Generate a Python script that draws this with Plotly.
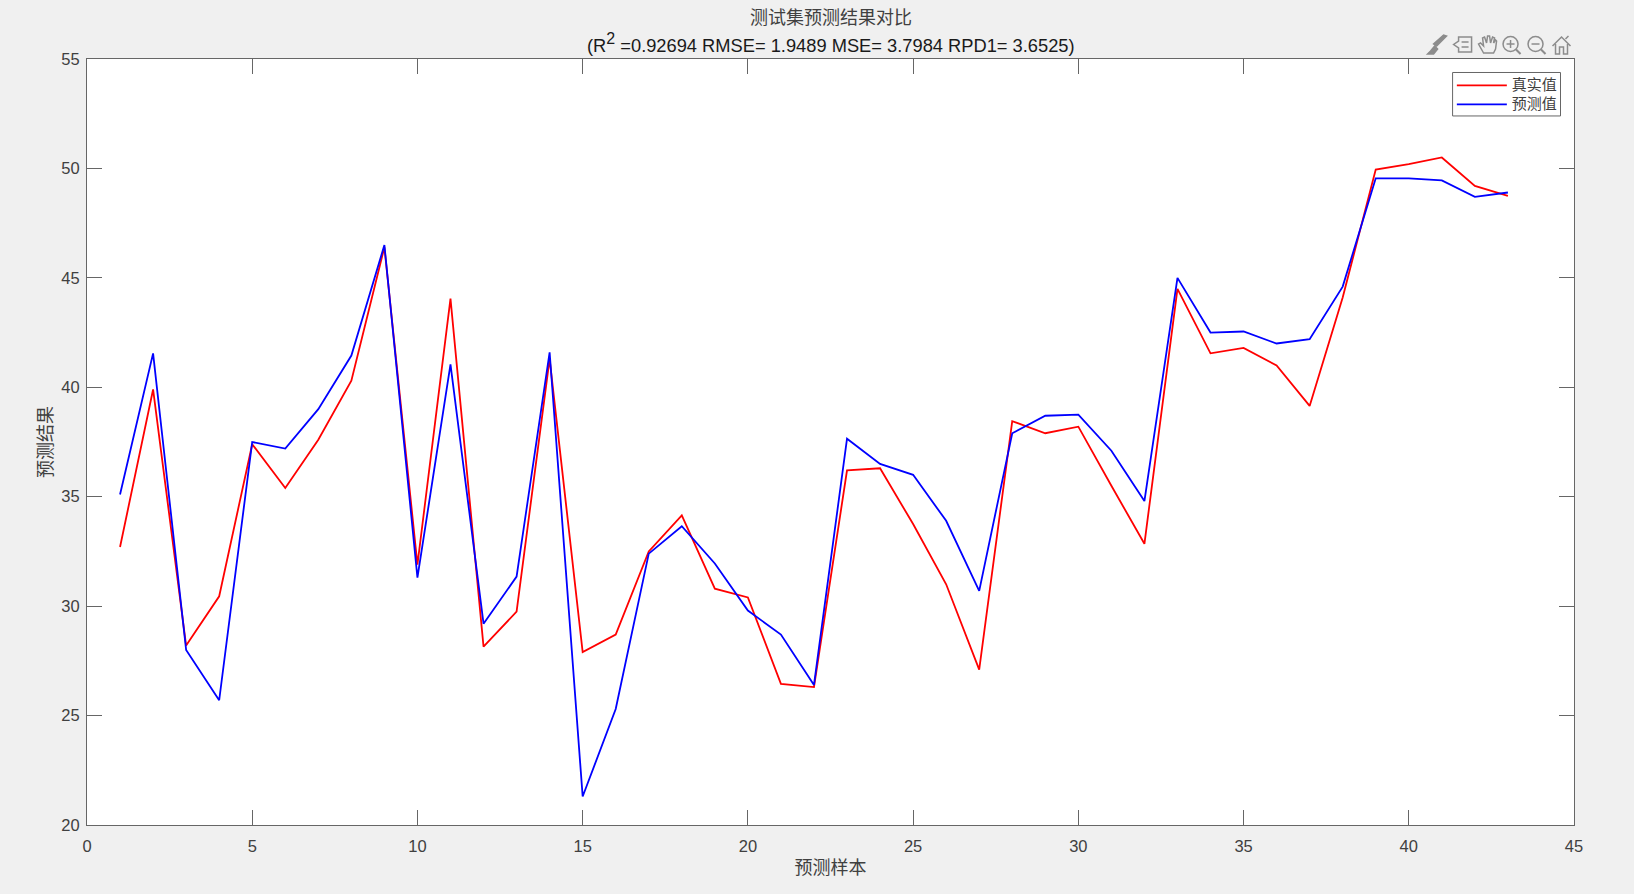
"""
测试集预测结果对比 - true vs. predicted values on the test set (MATLAB figure look).
"""

import plotly.graph_objects as go

FIG_W, FIG_H = 1634, 894
LEFT, RIGHT, TOP, BOTTOM = 86.5, 1574.5, 59, 825.5

samples = list(range(1, 44))
true_values = [
    32.7, 39.9, 28.2, 30.45, 37.4, 35.4, 37.6, 40.3, 46.4, 31.9, 44.05,
    28.15, 29.75, 41.3, 27.9, 28.7, 32.5, 34.15, 30.8, 30.4, 26.45, 26.3,
    36.2, 36.3, 33.75, 31.0, 27.1, 38.45, 37.9, 38.2, 35.5, 32.85, 44.5,
    41.55, 41.8, 41.0, 39.15, 44.1, 49.95, 50.2, 50.5, 49.2, 48.75,
]
pred_values = [
    35.1, 41.55, 28.0, 25.7, 37.5, 37.2, 39.0, 41.45, 46.5, 31.3, 41.05,
    29.2, 31.35, 41.6, 21.3, 25.3, 32.4, 33.65, 31.95, 29.8, 28.7, 26.4,
    37.65, 36.5, 36.0, 33.9, 30.7, 37.9, 38.7, 38.75, 37.1, 34.8, 45.0,
    42.5, 42.55, 42.0, 42.2, 44.6, 49.55, 49.55, 49.45, 48.7, 48.9,
]

title_cn = "测试集预测结果对比"
title_stats = (
    '(R<sup><span style="font-size:16px">2</span></sup> =0.92694 RMSE= 1.9489 '
    "MSE= 3.7984 RPD1= 3.6525)"
)
# legend font stays small so the rows sit as tight as the original, the text is sized inline
legend_true = '<span style="font-size:15px">真实值</span>'
legend_pred = '<span style="font-size:15px">预测值</span>'

LATIN = "Liberation Sans, Arial, sans-serif"
CJK = "Noto Sans CJK SC, sans-serif"
AXIS_COLOR = "#666666"
TEXT_COLOR = "#404040"
ICON_COLOR = "#8c8c8c"


def _px(x, y):
    return (x - LEFT) / (RIGHT - LEFT), (BOTTOM - y) / (BOTTOM - TOP)


def _path(points, close=False, fill=None, width=1.5):
    parts = []
    for i, (x, y) in enumerate(points):
        px, py = _px(x, y)
        parts.append(f"{'M' if i == 0 else 'L'}{px:.5f},{py:.5f}")
    return dict(
        type="path", xref="paper", yref="paper",
        path=" ".join(parts) + (" Z" if close else ""),
        line=dict(color=ICON_COLOR, width=width),
        fillcolor=fill or "rgba(0,0,0,0)",
    )


def _circle(cx, cy, r):
    x0, y0 = _px(cx - r, cy + r)
    x1, y1 = _px(cx + r, cy - r)
    return dict(
        type="circle", xref="paper", yref="paper", x0=x0, y0=y0, x1=x1, y1=y1,
        line=dict(color=ICON_COLOR, width=1.5),
    )


def legend_box():
    # plotly pads its own legend border too much, so the frame is a shape behind it
    x0, y0 = _px(1453, 116)
    x1, y1 = _px(1561, 72.5)
    return dict(
        type="rect", xref="paper", yref="paper", x0=x0, y0=y0, x1=x1, y1=y1,
        line=dict(color=AXIS_COLOR, width=1), fillcolor="white",
    )


def toolbar_shapes():
    shapes = [
        # brush
        _path([(1447, 36), (1437, 46), (1434, 44), (1444, 35)], close=True, fill=ICON_COLOR),
        _path([(1435, 46), (1438, 49), (1434, 54), (1428, 54), (1431, 51)], close=True, fill=ICON_COLOR),
        # data tip
        _path([(1459, 37), (1472, 37), (1472, 52), (1459, 52), (1459, 48), (1454, 44.5), (1459, 41)], close=True),
        _path([(1462, 42), (1469, 42)]),
        _path([(1462, 47), (1469, 47)]),
        # hand
        _path([(1484, 53), (1479, 44), (1481, 43), (1484, 46), (1483, 38), (1485, 37),
               (1487, 43), (1488, 36), (1490, 36), (1491, 43), (1493, 37), (1495, 38),
               (1494, 43), (1496, 40), (1497, 41), (1496, 49), (1494, 53)], close=True),
        # zoom in
        _circle(1511, 44, 7.5),
        _path([(1516.5, 49.5), (1521, 54)], width=2),
        _path([(1507, 44), (1515, 44)]),
        _path([(1511, 40), (1511, 48)]),
        # zoom out
        _circle(1536, 44, 7.5),
        _path([(1541.5, 49.5), (1546, 54)], width=2),
        _path([(1532, 44), (1540, 44)]),
        # home
        _path([(1553, 46), (1562, 37), (1571, 46)]),
        _path([(1556, 44), (1556, 54), (1560, 54), (1560, 47), (1564, 47), (1564, 54), (1568, 54), (1568, 44)]),
        _path([(1566, 39), (1569, 36)]),
    ]
    return shapes


fig = go.Figure()

fig.add_trace(
    go.Scatter(
        x=samples, y=true_values, mode="lines", name=legend_true,
        line=dict(color="#ff0000", width=1.8),
    )
)
fig.add_trace(
    go.Scatter(
        x=samples, y=pred_values, mode="lines", name=legend_pred,
        line=dict(color="#0000ff", width=1.8),
    )
)

axis_style = dict(
    showgrid=False,
    zeroline=False,
    showline=True,
    linecolor=AXIS_COLOR,
    linewidth=1,
    mirror="ticks",
    ticks="inside",
    ticklen=15,
    tickwidth=1,
    tickcolor=AXIS_COLOR,
    tickfont=dict(family=LATIN, size=16.5, color=TEXT_COLOR),
)

fig.update_layout(
    width=FIG_W,
    height=FIG_H,
    autosize=False,
    paper_bgcolor="#f0f0f0",
    plot_bgcolor="white",
    margin=dict(l=LEFT, r=FIG_W - RIGHT, t=TOP, b=FIG_H - BOTTOM, autoexpand=False),
    xaxis=dict(
        range=[0, 45], tick0=0, dtick=5, ticklabelstandoff=6,
        title=dict(text="预测样本", font=dict(family=CJK, size=18, color=TEXT_COLOR), standoff=7),
        **axis_style,
    ),
    yaxis=dict(
        range=[20, 55], tick0=20, dtick=5, ticklabelstandoff=3,
        title=dict(text="预测结果", font=dict(family=CJK, size=18, color=TEXT_COLOR), standoff=4),
        **axis_style,
    ),
    legend=dict(
        x=0.9925, y=0.9844, xanchor="right", yanchor="top",
        bgcolor="rgba(0,0,0,0)", borderwidth=0,
        font=dict(family=CJK, size=12, color=TEXT_COLOR),
        itemwidth=50, tracegroupgap=0,
    ),
    annotations=[
        dict(
            text=title_cn, xref="paper", yref="paper", x=0.5, y=1.0562,
            xanchor="center", yanchor="middle", showarrow=False,
            font=dict(family=CJK, size=18, color=TEXT_COLOR),
        ),
        dict(
            text=title_stats, xref="paper", yref="paper", x=0.5, y=1.0215,
            xanchor="center", yanchor="middle", showarrow=False,
            font=dict(family=LATIN, size=18.3, color="#1a1a1a"),
        ),
    ],
    shapes=[legend_box()] + toolbar_shapes(),
)

fig.write_html(
    "out.html",
    config=dict(displayModeBar=False),
    post_script="document.body.style.margin='0';document.body.style.background='#f0f0f0';document.body.style.overflow='hidden';",
)
